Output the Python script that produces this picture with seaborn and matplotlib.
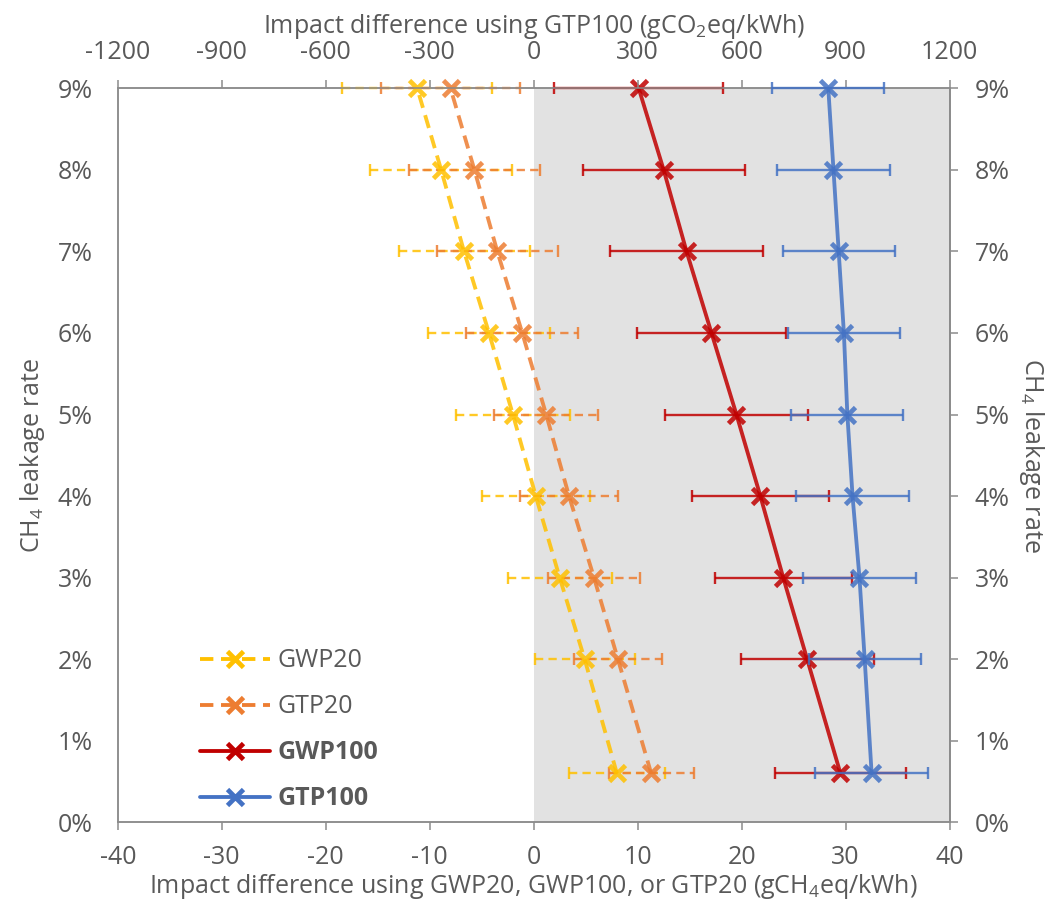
import matplotlib
matplotlib.use('Agg')
import matplotlib.pyplot as plt
import seaborn as sns
import pandas as pd
import numpy as np
from matplotlib.lines import Line2D
from matplotlib.ticker import FuncFormatter

# CH4 leakage rate (%) of each point
leak = [9, 8, 7, 6, 5, 4, 3, 2, 0.6]

# impact differences, gCH4eq/kWh (bottom axis)
gwp20 = [-11.2, -8.9, -6.7, -4.3, -2.0, 0.2, 2.5, 4.9, 8.0]
gwp20_err = [7.2, 6.8, 6.3, 5.9, 5.5, 5.2, 5.0, 4.8, 4.6]
gtp20 = [-8.0, -5.7, -3.5, -1.1, 1.2, 3.4, 5.8, 8.1, 11.3]
gtp20_err = [6.7, 6.3, 5.8, 5.4, 5.0, 4.7, 4.4, 4.2, 4.1]
gwp100 = [10.1, 12.5, 14.7, 17.1, 19.5, 21.8, 24.0, 26.3, 29.5]
gwp100_err = [8.1, 7.8, 7.4, 7.2, 6.9, 6.6, 6.6, 6.4, 6.3]

# impact difference, gCO2eq/kWh (top axis)
gtp100 = [850, 865, 880, 895, 905, 920, 940, 955, 975]
gtp100_err = [162, 162, 162, 162, 162, 162, 162, 162, 162]

# styles
c_gwp20 = '#FFC000'
c_gtp20 = '#ED7D31'
c_gwp100 = '#C00000'
c_gtp100 = '#4472C4'
txt = '#595959'
grid_c = '#8c8c8c'
fs = 18

sns.set_style('white')
plt.rcParams['font.family'] = ['Open Sans', 'DejaVu Sans']
plt.rcParams['mathtext.fontset'] = 'custom'
plt.rcParams['mathtext.rm'] = 'Open Sans'
plt.rcParams['mathtext.default'] = 'regular'
plt.rcParams['axes.unicode_minus'] = False
plt.rcParams['text.color'] = txt
plt.rcParams['axes.labelcolor'] = txt
plt.rcParams['xtick.color'] = grid_c
plt.rcParams['ytick.color'] = grid_c
plt.rcParams['xtick.labelcolor'] = txt
plt.rcParams['ytick.labelcolor'] = txt

fig = plt.figure(figsize=(10.61, 9.16), dpi=100)
ax = fig.add_axes([0.111, 0.1023, 0.784, 0.8013])
ax2 = ax.twiny()

# grey zone for positive differences
ax.axvspan(0, 40, color='#e2e2e2', zorder=0, lw=0)

dash_line = (0, (3.5, 2))
dash_err = (0, (3.5, 2.2))


def mk(color):
    return dict(marker='x', markersize=12, markeredgewidth=3.4,
                markeredgecolor=color, markerfacecolor=color)


def draw_series(a, vals, errs, color, dashed):
    df = pd.DataFrame({'val': vals, 'leak': leak})
    eb = a.errorbar(vals, leak, xerr=errs, fmt='none', ecolor=color,
                    elinewidth=1.7, capsize=4, capthick=1.7, alpha=0.85,
                    clip_on=False, zorder=3)
    if dashed:
        eb.lines[2][0].set_linestyle(dash_err)
    sns.lineplot(data=df, x='val', y='leak', orient='y', estimator=None,
                 color=color, linewidth=2.75, alpha=0.85,
                 linestyle=dash_line if dashed else '-',
                 clip_on=False, zorder=4, ax=a, **mk(color))


draw_series(ax, gwp20, gwp20_err, c_gwp20, True)
draw_series(ax, gtp20, gtp20_err, c_gtp20, True)
draw_series(ax, gwp100, gwp100_err, c_gwp100, False)
draw_series(ax2, gtp100, gtp100_err, c_gtp100, False)

# axes limits and ticks
ax.set_xlim(-40, 40)
ax.set_ylim(0, 9)
ax.set_xticks(np.arange(-40, 41, 10))
ax.set_yticks(np.arange(0, 10, 1))
ax.yaxis.set_major_formatter(FuncFormatter(lambda v, p: f'{v:.0f}%'))
ax2.set_xlim(-1200, 1200)
ax2.set_xticks(np.arange(-1200, 1201, 300))

ax.tick_params(axis='x', direction='out', length=6, width=1.1, pad=10, labelsize=fs)
ax.tick_params(axis='y', direction='out', length=6, width=1.1, pad=12, labelsize=fs)
ax2.tick_params(axis='x', direction='out', length=6, width=1.1, pad=11, labelsize=fs)

ax.set_xlabel('Impact difference using GWP20, GWP100, or GTP20 (gCH$_4$eq/kWh)',
              fontsize=fs, labelpad=2)
ax.set_ylabel('CH$_4$ leakage rate', fontsize=fs, labelpad=8)
ax2.set_xlabel('Impact difference using GTP100 (gCO$_2$eq/kWh)', fontsize=fs, labelpad=5)

# right side axis
secy = ax.secondary_yaxis('right')
secy.set_yticks(np.arange(0, 10, 1))
secy.yaxis.set_major_formatter(FuncFormatter(lambda v, p: f'{v:.0f}%'))
secy.tick_params(axis='y', direction='out', length=6, width=1.1, pad=12, labelsize=fs)
secy.set_ylabel('CH$_4$ leakage rate', fontsize=fs, rotation=270, labelpad=26)

for a in [ax, ax2]:
    for s in a.spines.values():
        s.set_color(grid_c)
        s.set_linewidth(1.1)
for s in secy.spines.values():
    s.set_color(grid_c)
    s.set_linewidth(1.1)

# legend
handles = [
    Line2D([], [], color=c_gwp20, lw=2.75, linestyle=dash_line, **mk(c_gwp20)),
    Line2D([], [], color=c_gtp20, lw=2.75, linestyle=dash_line, **mk(c_gtp20)),
    Line2D([], [], color=c_gwp100, lw=2.75, **mk(c_gwp100)),
    Line2D([], [], color=c_gtp100, lw=2.75, **mk(c_gtp100)),
]
labels = ['GWP20', 'GTP20', 'GWP100', 'GTP100']
leg = ax.legend(handles, labels, loc='upper left', bbox_to_anchor=(0.099, 0.237),
                frameon=False, fontsize=fs, handlelength=2.8, handletextpad=0.3,
                labelspacing=0.84, borderpad=0, borderaxespad=0)
for t in leg.get_texts()[2:]:
    t.set_fontweight('bold')
for t in leg.get_texts():
    t.set_color(txt)

fig.savefig('out.png', dpi=100)
